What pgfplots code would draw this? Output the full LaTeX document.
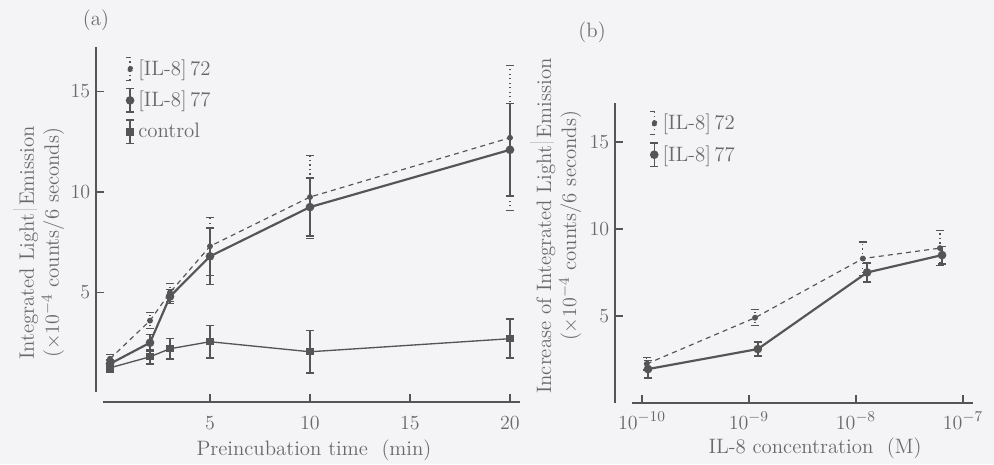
\documentclass[border=0pt]{standalone}
\usepackage{pgfplots}
\pgfplotsset{compat=1.18}
\definecolor{bg}{RGB}{244,243,245}
\definecolor{ink}{RGB}{85,85,85}
\definecolor{txt}{RGB}{105,105,105}

% legend symbols: vertical error bar with a marker
\def\legA{\draw[ink, line width=0.7pt, dotted] (0pt,-7pt) -- (0pt,7pt);
  \draw[ink, line width=0.7pt] (-2.5pt,-7pt) -- (2.5pt,-7pt) (-2.5pt,7pt) -- (2.5pt,7pt);
  \fill[ink] (0pt,0pt) circle (1.5pt);}
\def\legB{\draw[ink, line width=0.9pt] (0pt,-7pt) -- (0pt,7pt);
  \draw[ink, line width=0.9pt] (-2.5pt,-7pt) -- (2.5pt,-7pt) (-2.5pt,7pt) -- (2.5pt,7pt);
  \fill[ink] (0pt,0pt) circle (1.9pt);}
\def\legC{\draw[ink, line width=0.9pt] (0pt,-7pt) -- (0pt,7pt);
  \draw[ink, line width=0.9pt] (-2.5pt,-7pt) -- (2.5pt,-7pt) (-2.5pt,7pt) -- (2.5pt,7pt);
  \fill[ink] (-1.8pt,-1.8pt) rectangle (1.8pt,1.8pt);}

\pgfplotsset{
  panel/.style={
    scale only axis,
    anchor=south west,
    clip mode=individual,
    axis lines=left,
    axis line style={-, ink, line width=1.2pt},
    tick align=inside,
    major tick length=5pt,
    tick style={ink, line width=0.9pt},
    font=\fontsize{12.5}{15}\selectfont,
    every tick label/.append style={txt},
    label style={txt},
    legend style={draw=none, fill=none, font=\fontsize{12.5}{15}\selectfont, text=txt,
      row sep=4pt, inner sep=0pt, cells={anchor=west}},
    legend cell align=left,
  },
  s72/.style={ink, line width=0.7pt, dash pattern=on 3pt off 2.5pt, mark=*, mark size=1.4pt,
    mark options={solid, fill=ink, draw=ink},
    legend image code/.code={\legA},
    error bars/.cd, y dir=both, y explicit,
    error bar style={line width=0.7pt, dotted},
    error mark options={rotate=90, solid, mark size=2.5pt, line width=0.7pt}},
  s77/.style={ink, line width=1.3pt, mark=*, mark size=1.9pt,
    mark options={fill=ink, draw=ink},
    legend image code/.code={\legB},
    error bars/.cd, y dir=both, y explicit,
    error bar style={line width=0.9pt},
    error mark options={rotate=90, mark size=2.5pt, line width=0.9pt}},
  sctl/.style={ink, line width=0.8pt, mark=square*, mark size=1.8pt,
    mark options={fill=ink, draw=ink},
    legend image code/.code={\legC},
    error bars/.cd, y dir=both, y explicit,
    error bar style={line width=0.9pt},
    error mark options={rotate=90, mark size=2.5pt, line width=0.9pt}},
}

\newcommand{\sep}{\,\textcolor{gray!40}{\rule[-0.3ex]{0.4pt}{2.6ex}}\,}

\begin{document}
\begin{tikzpicture}
\fill[bg] (0,0) rectangle (596.4pt,278.4pt);
\useasboundingbox (0,0) rectangle (596.4pt,278.4pt);

% (a) time course
\begin{axis}[panel,
  at={(57.6pt,37.2pt)},
  width=254.4pt, height=212.8pt,
  xmin=-0.7, xmax=20.5, ymin=-0.45, ymax=17.2,
  xtick={5,10,15,20}, ytick={5,10,15},
  xticklabel style={yshift=-5pt},
  x axis line style={shorten <=4.2pt},
  y axis line style={shorten <=6pt},
  xlabel={Preincubation time\ \ (min)},
  xlabel style={at={(axis description cs:0.514,-0.137)}, anchor=center},
  ylabel={Integrated Light\sep Emission\\($\times10^{-4}$ counts/6 seconds)},
  ylabel style={at={(axis description cs:-0.135,0.43)}, anchor=center, align=center,
    xshift=4pt},
  legend style={at={(axis description cs:0.068,0.975)}, anchor=north west},
]
\addplot[s72] coordinates {
  (0,1.7) +- (0,0.2)
  (2,3.6) +- (0,0.4)
  (3,5.0) +- (0,0.45)
  (5,7.3) +- (0,1.45)
  (10,9.75) +- (0,2.05)
  (20,12.7) +- (0,3.6)
};
\addlegendentry{[IL-8]\,72}
\addplot[s77] coordinates {
  (0,1.45) +- (0,0.2)
  (2,2.5) +- (0,0.4)
  (3,4.8) +- (0,0.35)
  (5,6.8) +- (0,1.4)
  (10,9.25) +- (0,1.45)
  (20,12.1) +- (0,2.3)
};
\addlegendentry{[IL-8]\,77}
\addplot[sctl] coordinates {
  (0,1.25) +- (0,0.2)
  (2,1.8) +- (0,0.37)
  (3,2.2) +- (0,0.5)
  (5,2.55) +- (0,0.8)
  (10,2.05) +- (0,1.05)
  (20,2.7) +- (0,0.97)
};
\addlegendentry{control}
\node[txt, font=\fontsize{12.5}{15}\selectfont] at (rel axis cs:0,1.077) {(a)};
\end{axis}

% (b) concentration dependence
\begin{axis}[panel,
  at={(369pt,36.6pt)},
  width=214.8pt, height=180pt,
  xmode=log, log basis x=10,
  xmin=5.6e-11, xmax=1.24e-7, ymin=0, ymax=17.24,
  xtick={1e-10,1e-9,1e-8,1e-7}, xminorticks=false,
  ytick={5,10,15},
  xticklabel style={yshift=-2pt},
  x axis line style={shorten <=10.2pt},
  xlabel={IL-8 concentration\ \ (M)},
  xlabel style={at={(axis description cs:0.559,-0.15)}, anchor=center},
  ylabel={Increase of Integrated Light\sep Emission\\($\times10^{-4}$ counts/6 seconds)},
  ylabel style={at={(axis description cs:-0.165,0.59)}, anchor=center, align=center},
  legend style={at={(axis description cs:0.095,0.975)}, anchor=north west},
]
\addplot[s72] coordinates {
  (1.11e-10,2.25) +- (0,0.35)
  (1.14e-9,4.9) +- (0,0.45)
  (1.16e-8,8.3) +- (0,0.95)
  (6.1e-8,8.9) +- (0,1.0)
};
\addlegendentry{[IL-8]\,72}
\addplot[s77] coordinates {
  (1.14e-10,1.95) +- (0,0.5)
  (1.21e-9,3.1) +- (0,0.4)
  (1.27e-8,7.5) +- (0,0.55)
  (6.37e-8,8.5) +- (0,0.5)
};
\addlegendentry{[IL-8]\,77}
\node[txt, font=\fontsize{12.5}{15}\selectfont] at (rel axis cs:-0.064,1.235) {(b)};
\end{axis}
\end{tikzpicture}
\end{document}
